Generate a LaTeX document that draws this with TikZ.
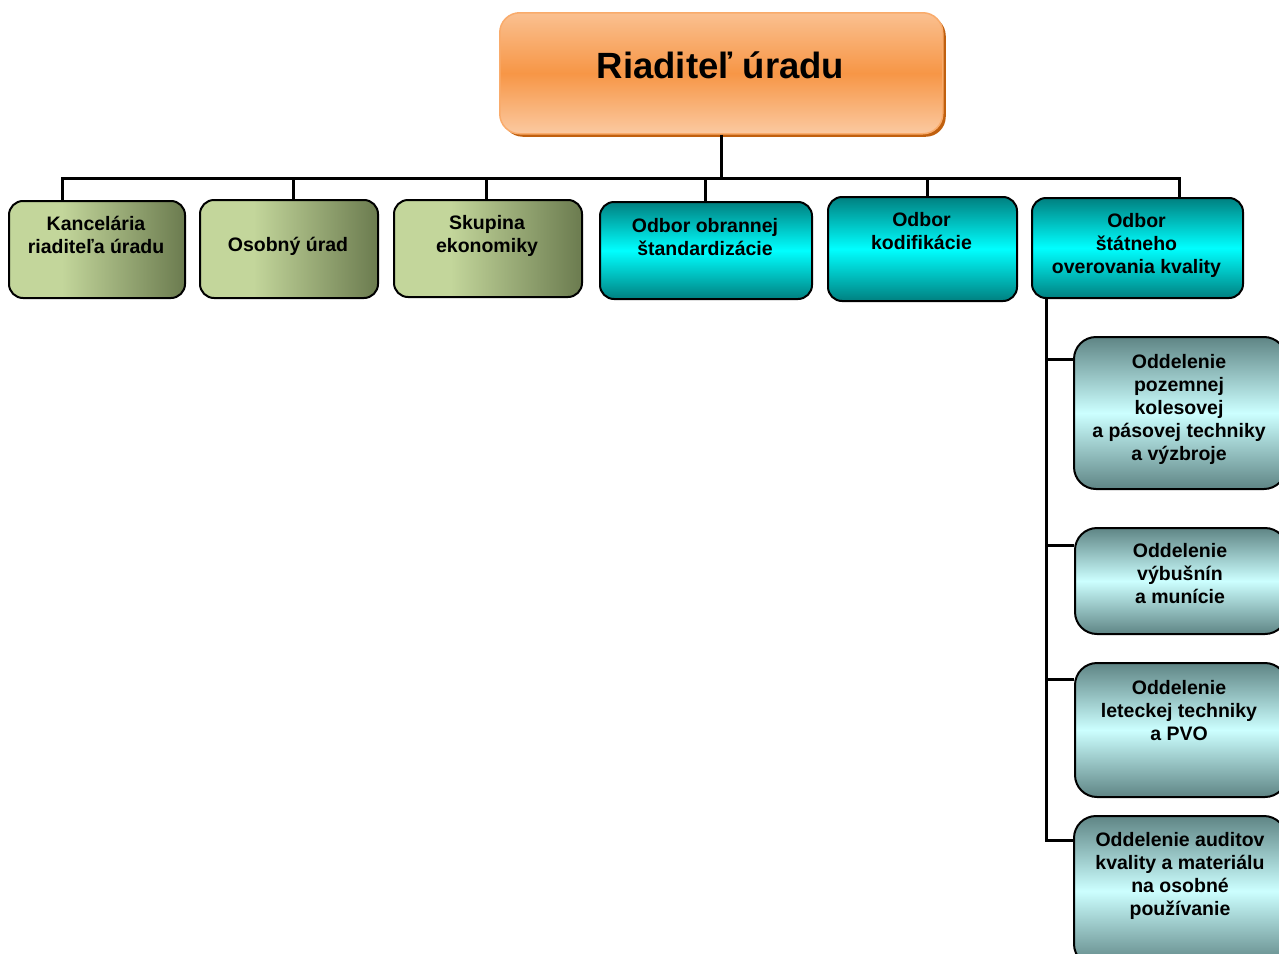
\documentclass[tikz,border=0pt]{standalone}
\usepackage{fontspec}
\setmainfont{Liberation Sans}
\usetikzlibrary{shapes,shadows,positioning}

\definecolor{orangeMid}{HTML}{F79646}
\definecolor{orangeLight}{HTML}{FAC090}
\definecolor{orangeDark}{HTML}{C0600F}
\definecolor{greenLight}{HTML}{C3D69B}
\definecolor{greenDark}{HTML}{6B7B4F}
\definecolor{tealDark}{HTML}{008080}
\definecolor{cyanLight}{HTML}{00FFFF}
\definecolor{subDark}{HTML}{5F8585}
\definecolor{subLight}{HTML}{CCFFFF}

\pgfdeclarehorizontalshading{greenshade}{100bp}{color(0bp)=(greenLight); color(25bp)=(greenLight);
  color(40bp)=(greenLight); color(75bp)=(greenDark); color(100bp)=(greenDark)}

\begin{document}
\begin{tikzpicture}[x=1pt, y=-1pt, every node/.style={inner sep=0pt},
                font={\fontsize{19.5}{23}\selectfont\bfseries},
                dirbox/.style={draw=orangeMid!80!white, line width=1.5pt, rounded corners=20pt, anchor=north west,
                        top color=orangeLight, bottom color=orangeLight!85!white, middle color=orangeMid,
                        drop shadow={shadow xshift=3pt, shadow yshift=-3pt, fill=orangeDark, opacity=1}},
                greenbox/.style={draw=black, line width=2pt, rounded corners=14pt, anchor=north west, shading=greenshade},
                cyanbox/.style={draw=black, line width=2pt, rounded corners=14pt, anchor=north west,
                        top color=tealDark, bottom color=tealDark, middle color=cyanLight},
                subbox/.style={draw=black, line width=2pt, rounded corners=22pt, anchor=north west,
                        top color=subDark, bottom color=subDark, middle color=subLight},
                boxtext/.style={align=center},
                link/.style={line width=3pt, line join=miter}]
                \useasboundingbox (0,0) rectangle (1279,953);
                \clip (0,0) rectangle (1279,953);

                % director
                \node[dirbox, minimum width=443pt, minimum height=121pt] (dirB) at (499,12) {};
                \node[font={\fontsize{36.5}{40}\selectfont\bfseries}] (dir) at (720.5,65) {Riaditeľ úradu};

                % first level
                \node[greenbox, minimum width=176pt, minimum height=97pt] (kancB) at (8,200) {};
                \node[greenbox, minimum width=178pt, minimum height=98pt] (osobB) at (199,199) {};
                \node[greenbox, minimum width=188pt, minimum height=97pt] (skupB) at (393,199) {};
                \node[cyanbox, minimum width=212pt, minimum height=97pt] (obrB) at (599,201) {};
                \node[cyanbox, minimum width=189pt, minimum height=104pt] (kodifB) at (827,196) {};
                \node[cyanbox, minimum width=211pt, minimum height=100pt] (statB) at (1031,197) {};

                \node[boxtext] (kanc) at (96,234.5) {Kancelária\\riaditeľa úradu};
                \node[boxtext] (osob) at (288,246) {Osobný úrad};
                \node[boxtext] (skup) at (487,235.5) {Skupina\\ekonomiky};
                \node[boxtext] (obr) at (705,237) {Odbor obrannej\\štandardizácie};
                \node[boxtext] (kodif) at (921.5,231.5) {Odbor\\kodifikácie};
                \node[boxtext] (stat) at (1136.5,245) {Odbor\\štátneho\\overovania kvality};

                % departments
                \node[subbox, minimum width=212pt, minimum height=152pt] (pozB) at (1073,336) {};
                \node[subbox, minimum width=212pt, minimum height=106pt] (vybB) at (1074,527) {};
                \node[subbox, minimum width=212pt, minimum height=134pt] (letB) at (1074,662) {};
                \node[subbox, minimum width=212pt, minimum height=150pt] (audB) at (1073,815) {};

                \node[boxtext] (poz) at (1179,409) {Oddelenie\\pozemnej\\kolesovej\\a pásovej techniky\\a výzbroje};
                \node[boxtext] (vyb) at (1180,574) {Oddelenie\\výbušnín\\a munície};
                \node[boxtext] (let) at (1179,711) {Oddelenie\\leteckej techniky\\a PVO};
                \node[boxtext] (aud) at (1180,875.5) {Oddelenie auditov\\kvality a materiálu\\na osobné\\používanie};

                % connectors
                \coordinate (b1) at (62,178);
                \coordinate (b2) at (293,178);
                \coordinate (b3) at (486,178);
                \coordinate (b4) at (705,178);
                \coordinate (b5) at (927,178);
                \coordinate (b6) at (1179,178);
                \draw[link] (dirB.south) -- (dirB.south |- b1);
                \draw[link] (b1 |- kancB.north) -- (b1) -- (b6) -- (b6 |- statB.north);
                \draw[link] (b2) -- (b2 |- osobB.north);
                \draw[link] (b3) -- (b3 |- skupB.north);
                \draw[link] (b4) -- (b4 |- obrB.north);
                \draw[link] (b5) -- (b5 |- kodifB.north);

                \coordinate (v) at (1046,297);
                \coordinate (j1) at (1046,359);
                \coordinate (j2) at (1046,545);
                \coordinate (j3) at (1046,679);
                \coordinate (j4) at (1046,840);
                \draw[link] (v) -- (j4) -- (j4 -| audB.west);
                \draw[link] (j1) -- (j1 -| pozB.west);
                \draw[link] (j2) -- (j2 -| vybB.west);
                \draw[link] (j3) -- (j3 -| letB.west);
\end{tikzpicture}
\end{document}
